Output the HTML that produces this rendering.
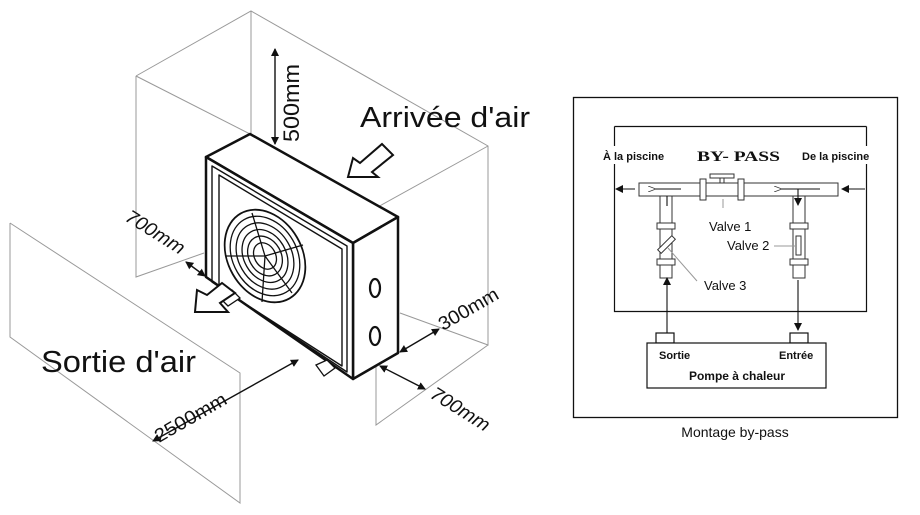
<!DOCTYPE html>
<html><head><meta charset="utf-8"><style>
html,body{margin:0;padding:0;background:#fff;}
svg{display:block;}
.s{font-family:"Liberation Sans",Arial,sans-serif;}
.r{font-family:"Liberation Serif",serif;}
</style></head><body>
<svg width="920" height="515" viewBox="0 0 920 515" xmlns="http://www.w3.org/2000/svg">
<defs>
<marker id="ah" markerWidth="8" markerHeight="8" refX="7" refY="4" orient="auto-start-reverse" markerUnits="userSpaceOnUse"><path d="M0,0 L8,4 L0,8 z" fill="#111"/></marker>
<marker id="oh" markerWidth="8" markerHeight="6" refX="1" refY="3" orient="auto" markerUnits="userSpaceOnUse"><path d="M8,0 L0,3 L8,6" fill="none" stroke="#333" stroke-width="0.8"/></marker>
</defs>
<g stroke="#999" stroke-width="1" fill="none">
<path d="M136,76 L251,11 L488,146 L488,345 L400,313"/>
<path d="M136,76 L136,277 L204,253"/>
<path d="M136,76 L250,134"/>
<path d="M251,11 L251,134"/>
<path d="M488,146 L376,208 L376,425 L488,345"/>
<path d="M10,223 L10,337 L240,503 L240,373 L10,223"/>
</g>
<g stroke="#111" stroke-width="1.4" fill="none">
<line x1="275" y1="49" x2="275" y2="144" marker-start="url(#ah)" marker-end="url(#ah)"/>
<line x1="186" y1="262" x2="205" y2="276" marker-start="url(#ah)" marker-end="url(#ah)"/>
<line x1="153" y1="441" x2="298" y2="360" marker-start="url(#ah)" marker-end="url(#ah)"/>
<line x1="400" y1="352" x2="439" y2="329" marker-start="url(#ah)" marker-end="url(#ah)"/>
<line x1="380" y1="366" x2="425" y2="389" marker-start="url(#ah)" marker-end="url(#ah)"/>
</g>
<g stroke="#111" fill="#fff" stroke-linejoin="round">
<polygon points="206,157 250,134 398,217 353,243" stroke-width="2.5"/>
<polygon points="353,243 398,217 398,353 353,379" stroke-width="2.5"/>
<polygon points="206,157 353,243 353,379 206,277" stroke-width="2.5"/>
<polygon points="212,166 347,246 347,372 212,282" stroke-width="1.4" fill="none"/>
<polygon points="219,175 342,249 342,366 219,287" stroke-width="1.4" fill="none"/>
</g>
<g stroke="#111" fill="none" stroke-width="1.3">
<g transform="translate(265,256) rotate(60)">
<ellipse rx="49" ry="37" stroke-width="1.8"/>
<ellipse rx="42" ry="32"/>
<ellipse rx="35" ry="26.5"/>
<ellipse rx="28" ry="21"/>
<ellipse rx="21" ry="16"/>
<ellipse rx="14" ry="10.5"/>
</g>
<path d="M265,256 L226,256 M265,256 L252,213 M265,256 L303,245 M265,256 L292,293 M265,256 L262,302"/>
<ellipse cx="375" cy="288" rx="5" ry="9" stroke-width="2.2"/>
<ellipse cx="375" cy="336" rx="5" ry="9" stroke-width="2.2"/>
</g>
<g stroke="#111" stroke-width="1.3" fill="#fff">
<polygon points="219,297 232,290 240,298 228,306"/>
<polygon points="316,365 327,360 335,368 324,376"/>
</g>
<g stroke="#111" stroke-width="2" fill="#fff" stroke-linejoin="miter">
<polygon points="348,177 353,158 360,163 382,144 393,155 372,172 378,177"/>
<polygon points="195,312 197,290 207,295 222,283 235,293 220,303 228,312"/>
</g>
<g fill="#111">
<text class="s" x="360" y="127" font-size="29" textLength="170" lengthAdjust="spacingAndGlyphs">Arrivée d'air</text>
<text class="s" x="41" y="372" font-size="31" textLength="155" lengthAdjust="spacingAndGlyphs">Sortie d'air</text>
<text class="s" transform="translate(299,142) rotate(-90)" font-size="22" textLength="78" lengthAdjust="spacingAndGlyphs">500mm</text>
<text class="s" transform="translate(124,220) rotate(32)" font-size="19" font-style="italic" textLength="66" lengthAdjust="spacingAndGlyphs">700mm</text>
<text class="s" transform="translate(159,443) rotate(-30)" font-size="19" textLength="80" lengthAdjust="spacingAndGlyphs">2500mm</text>
<text class="s" transform="translate(443,331) rotate(-30)" font-size="19" textLength="66" lengthAdjust="spacingAndGlyphs">300mm</text>
<text class="s" transform="translate(429,397) rotate(32)" font-size="19" font-style="italic" textLength="66" lengthAdjust="spacingAndGlyphs">700mm</text>
</g>

<rect x="573.5" y="97.5" width="324" height="320" fill="none" stroke="#111" stroke-width="1.3"/>
<path d="M614.5,126.5 L866.5,126.5 M614.5,126.5 L614.5,311.5 L866.5,311.5 L866.5,126.5" fill="none" stroke="#111" stroke-width="1.2"/>
<rect x="601" y="146" width="90" height="18" fill="#fff"/>
<rect x="800" y="146" width="72" height="18" fill="#fff"/>
<g stroke="#333" stroke-width="1" fill="#fff">
<rect x="660" y="196" width="12" height="82"/>
<rect x="793" y="196" width="12" height="82"/>
<rect x="639" y="183" width="199" height="13"/>
<rect x="700" y="179" width="6" height="21"/>
<rect x="738" y="179" width="6" height="21"/>
<rect x="720" y="177" width="4" height="6"/>
<rect x="710" y="174" width="24" height="4"/>
<rect x="657" y="223" width="18" height="6"/>
<rect x="657" y="259" width="18" height="6"/>
<rect x="790" y="223" width="18" height="6"/>
<rect x="790" y="259" width="18" height="6"/>
<rect x="796" y="236" width="5" height="19"/>
<rect x="-10" y="-2.5" width="20" height="5" transform="translate(666.5,244.5) rotate(-45)"/>
</g>
<g stroke="#999" stroke-width="1">
<line x1="723" y1="199" x2="723" y2="208"/>
<line x1="668" y1="248" x2="697" y2="281"/>
<line x1="774" y1="246" x2="796" y2="246"/>
</g>
<g stroke="#111" stroke-width="1.1" fill="none">
<line x1="635" y1="189" x2="616" y2="189" marker-end="url(#ah)"/>
<line x1="865" y1="189" x2="842" y2="189" marker-end="url(#ah)"/>
<line x1="667" y1="341" x2="667" y2="278" marker-end="url(#ah)"/>
<line x1="798" y1="280" x2="798" y2="330" marker-end="url(#ah)"/>
<line x1="681" y1="189" x2="655" y2="189" marker-end="url(#oh)"/>
<line x1="820" y1="189" x2="781" y2="189" marker-end="url(#oh)"/>
<line x1="667" y1="206" x2="667" y2="196"/>
<line x1="798" y1="189" x2="798" y2="205" marker-end="url(#ah)"/>
</g>
<g stroke="#111" stroke-width="1.2" fill="#fff">
<rect x="656" y="333" width="18" height="10"/>
<rect x="790" y="333" width="18" height="10"/>
<rect x="647" y="343" width="179" height="45"/>
</g>
<g font-weight="bold" fill="#111" font-size="11">
<text class="s" x="603" y="160">À la piscine</text>
<text class="s" x="802" y="160">De la piscine</text>
<text class="s" x="659" y="359">Sortie</text>
<text class="s" x="779" y="359">Entrée</text>
<text class="s" x="737" y="380" font-size="12" text-anchor="middle">Pompe à chaleur</text>
<text class="r" x="697" y="161" font-size="15" textLength="83" lengthAdjust="spacingAndGlyphs">BY- PASS</text>
</g>
<g fill="#111" font-size="13">
<text class="s" x="709" y="231">Valve 1</text>
<text class="s" x="727" y="250">Valve 2</text>
<text class="s" x="704" y="290">Valve 3</text>
<text class="s" x="735" y="437" font-size="14" text-anchor="middle">Montage by-pass</text>
</g>
</svg>
</body></html>
